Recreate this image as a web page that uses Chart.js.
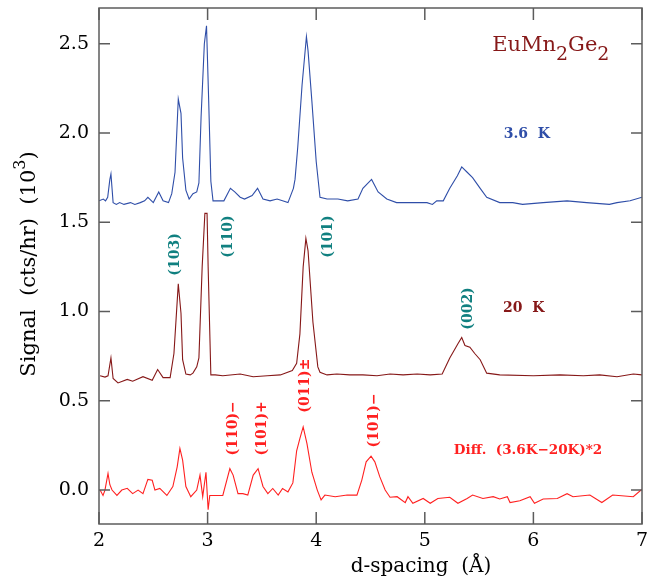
<!DOCTYPE html>
<html>
<head>
<meta charset="utf-8">
<script src="https://cdn.jsdelivr.net/npm/chart.js@4.4.0/dist/chart.umd.min.js"></script>
<style>
  body { margin: 0; background: #fff; }
</style>
</head>
<body>
<canvas id="xrdChart" width="647" height="580"></canvas>
<script>
// 3.6 K scan
const dCold = [2.00, 2.04, 2.06, 2.08, 2.10, 2.11, 2.13, 2.16, 2.19, 2.23, 2.29, 2.33, 2.38, 2.42, 2.45, 2.50,
  2.55, 2.59, 2.64, 2.67, 2.70, 2.73, 2.755, 2.77, 2.80, 2.83, 2.865, 2.90, 2.92, 2.94, 2.97, 2.99, 3.01,
  3.03, 3.05, 3.10, 3.15, 3.21, 3.25, 3.30, 3.34, 3.41, 3.46, 3.51, 3.575, 3.64, 3.69, 3.74, 3.79, 3.805,
  3.83, 3.87, 3.91, 3.925, 3.96, 4.00, 4.035, 4.10, 4.20, 4.29, 4.385, 4.43, 4.51, 4.57, 4.65, 4.74, 4.84,
  4.93, 5.02, 5.07, 5.11, 5.17, 5.23, 5.30, 5.34, 5.39, 5.44, 5.51, 5.57, 5.69, 5.81, 5.90, 6.09, 6.31,
  6.49, 6.70, 6.77, 6.89, 7.00];
const sigCold = [1.62, 1.63, 1.62, 1.64, 1.74, 1.77, 1.61, 1.60, 1.61, 1.60, 1.61, 1.60, 1.61, 1.62, 1.64, 1.61,
  1.67, 1.62, 1.61, 1.66, 1.78, 2.19, 2.11, 1.86, 1.68, 1.63, 1.66, 1.67, 1.72, 2.09, 2.50, 2.60, 2.18,
  1.73, 1.62, 1.62, 1.62, 1.69, 1.67, 1.64, 1.63, 1.65, 1.69, 1.63, 1.62, 1.63, 1.62, 1.61, 1.69, 1.74,
  1.92, 2.27, 2.54, 2.46, 2.18, 1.84, 1.64, 1.63, 1.63, 1.62, 1.63, 1.69, 1.74, 1.67, 1.63, 1.61, 1.61,
  1.61, 1.61, 1.60, 1.62, 1.62, 1.69, 1.76, 1.81, 1.78, 1.75, 1.69, 1.64, 1.61, 1.61, 1.60, 1.61, 1.62,
  1.61, 1.60, 1.61, 1.62, 1.64];

// 20 K scan
const dWarm = [2.01, 2.055, 2.083, 2.11, 2.13, 2.175, 2.26, 2.31, 2.405, 2.49, 2.54, 2.59, 2.655, 2.69, 2.73,
  2.755, 2.77, 2.80, 2.84, 2.865, 2.90, 2.92, 2.95, 2.975, 2.995, 3.005, 3.03, 3.07, 3.14, 3.30, 3.42, 3.55,
  3.67, 3.78, 3.82, 3.85, 3.88, 3.905, 3.925, 3.97, 4.015, 4.035, 4.10, 4.19, 4.31, 4.43, 4.56, 4.68, 4.80,
  4.93, 5.05, 5.16, 5.23, 5.305, 5.34, 5.37, 5.415, 5.46, 5.51, 5.57, 5.69, 6.00, 6.245, 6.46, 6.61, 6.77,
  6.92, 7.00];
const sigWarm = [0.64, 0.633, 0.64, 0.74, 0.625, 0.60, 0.62, 0.61, 0.635, 0.615, 0.675, 0.63, 0.63, 0.765, 1.155,
  0.99, 0.73, 0.65, 0.645, 0.655, 0.69, 0.74, 1.25, 1.55, 1.55, 1.25, 0.645, 0.645, 0.64, 0.65, 0.635, 0.64,
  0.645, 0.67, 0.71, 0.875, 1.25, 1.41, 1.34, 0.94, 0.69, 0.66, 0.645, 0.65, 0.645, 0.645, 0.64, 0.65, 0.645,
  0.65, 0.645, 0.65, 0.74, 0.82, 0.855, 0.81, 0.80, 0.765, 0.73, 0.655, 0.645, 0.64, 0.645, 0.64, 0.645, 0.635,
  0.65, 0.645];

// (3.6K - 20K) * 2
const dDiff = [2.01, 2.037, 2.055, 2.083, 2.10, 2.12, 2.165, 2.21, 2.26, 2.31, 2.36, 2.405, 2.45, 2.49, 2.515,
  2.56, 2.625, 2.68, 2.72, 2.745, 2.77, 2.80, 2.845, 2.90, 2.93, 2.955, 2.985, 3.005, 3.02, 3.07, 3.14, 3.205,
  3.235, 3.28, 3.325, 3.37, 3.42, 3.465, 3.51, 3.555, 3.60, 3.65, 3.69, 3.74, 3.785, 3.82, 3.85, 3.88, 3.915,
  3.96, 4.01, 4.045, 4.08, 4.175, 4.285, 4.375, 4.42, 4.46, 4.505, 4.54, 4.585, 4.635, 4.68, 4.745, 4.82,
  4.845, 4.89, 4.985, 5.05, 5.12, 5.23, 5.305, 5.39, 5.44, 5.535, 5.63, 5.69, 5.76, 5.785, 5.875, 5.97, 6.01,
  6.09, 6.22, 6.31, 6.365, 6.52, 6.63, 6.73, 6.92, 7.00];
const sigDiff = [0.0, -0.03, 0.0, 0.093, 0.03, 0.0, -0.03, 0.0, 0.01, -0.02, 0.0, -0.02, 0.06, 0.055, 0.0,
  0.009, -0.03, 0.02, 0.13, 0.233, 0.168, 0.02, -0.037, 0.0, 0.084, -0.037, 0.10, -0.11, -0.03, -0.03, -0.03, 0.12,
  0.084, -0.02, -0.02, -0.028, 0.084, 0.12, 0.02, -0.02, 0.009, -0.028, 0.009, -0.01, 0.04, 0.22, 0.29, 0.354, 0.26,
  0.10, 0.0, -0.055, -0.028, -0.037, -0.028, -0.028, 0.056, 0.158, 0.19, 0.158, 0.075, 0.0, -0.04, -0.037, -0.07,
  -0.037, -0.074, -0.047, -0.074, -0.047, -0.04, -0.074, -0.047, -0.028, -0.047, -0.037, -0.05, -0.037, -0.07, -0.06, -0.037, -0.074,
  -0.05, -0.047, -0.02, -0.037, -0.028, -0.07, -0.028, -0.037, 0.005];

const xTicks = [2, 3, 4, 5, 6, 7];
const yTicks = [0.0, 0.5, 1.0, 1.5, 2.0, 2.5];

const pts = (xs, ys) => xs.map((v, i) => ({ x: v, y: ys[i] }));

const SERIF = '"DejaVu Serif", serif';
const TEAL = '#108080';
const RED = '#ff2020';
const DARKRED = '#861818';
const BLUE = '#2f4ea8';

// text notes, placed in data units
const notes = [
  { t: '3.6  K', x: 5.94, y: 1.99, c: BLUE, f: 'bold 14px ' + SERIF },
  { t: '20  K', x: 5.91, y: 1.02, c: DARKRED, f: 'bold 14px ' + SERIF },
  { t: 'Diff.  (3.6K\u221220K)*2', x: 5.95, y: 0.223, c: RED, f: 'bold 13.5px ' + SERIF },
  { t: '(103)', x: 2.70, y: 1.32, c: TEAL, f: 'bold 14px ' + SERIF, rot: true },
  { t: '(110)', x: 3.19, y: 1.42, c: TEAL, f: 'bold 14px ' + SERIF, rot: true },
  { t: '(101)', x: 4.11, y: 1.42, c: TEAL, f: 'bold 14px ' + SERIF, rot: true },
  { t: '(002)', x: 5.40, y: 1.017, c: TEAL, f: 'bold 14px ' + SERIF, rot: true },
  { t: '(110)\u2212', x: 3.24, y: 0.346, c: RED, f: 'bold 14px ' + SERIF, rot: true },
  { t: '(101)+', x: 3.50, y: 0.346, c: RED, f: 'bold 14px ' + SERIF, rot: true },
  { t: '(011)\u00b1', x: 3.90, y: 0.585, c: RED, f: 'bold 14px ' + SERIF, rot: true },
  { t: '(101)\u2212', x: 4.54, y: 0.39, c: RED, f: 'bold 14px ' + SERIF, rot: true }
];

const framePlugin = {
  id: 'frame',
  afterDraw(chart) {
    const { ctx, chartArea: a, scales: { x, y } } = chart;
    ctx.save();
    ctx.strokeStyle = '#5c5c5c';
    ctx.lineWidth = 1.5;
    ctx.strokeRect(a.left, a.top, a.right - a.left, a.bottom - a.top);
    ctx.beginPath();
    xTicks.forEach(v => {
      const px = x.getPixelForValue(v);
      ctx.moveTo(px, a.bottom); ctx.lineTo(px, a.bottom - 12);
      ctx.moveTo(px, a.top); ctx.lineTo(px, a.top + 12);
    });
    yTicks.forEach(v => {
      const py = y.getPixelForValue(v);
      ctx.moveTo(a.left, py); ctx.lineTo(a.left + 11, py);
      ctx.moveTo(a.right, py); ctx.lineTo(a.right - 11, py);
    });
    ctx.stroke();

    // tick labels
    ctx.fillStyle = '#000';
    ctx.font = '19px ' + SERIF;
    ctx.textAlign = 'center';
    ctx.textBaseline = 'top';
    xTicks.forEach(v => ctx.fillText(String(v), x.getPixelForValue(v), a.bottom + 8));
    ctx.textAlign = 'right';
    ctx.textBaseline = 'middle';
    yTicks.forEach(v => ctx.fillText(v.toFixed(1), a.left - 10, y.getPixelForValue(v)));

    ctx.textAlign = 'center';
    notes.forEach(n => {
      ctx.save();
      ctx.translate(x.getPixelForValue(n.x), y.getPixelForValue(n.y));
      if (n.rot) ctx.rotate(-Math.PI / 2);
      ctx.fillStyle = n.c;
      ctx.font = n.f;
      ctx.fillText(n.t, 0, 0);
      ctx.restore();
    });

    // compound name with subscripts
    ctx.textAlign = 'left';
    ctx.textBaseline = 'alphabetic';
    ctx.fillStyle = DARKRED;
    let cx = x.getPixelForValue(5.62);
    const base = y.getPixelForValue(2.458);
    [['EuMn', 0], ['2', 1], ['Ge', 0], ['2', 1]].forEach(([s, sub]) => {
      ctx.font = (sub ? '19px ' : '21px ') + SERIF;
      ctx.fillText(s, cx, base + (sub ? 9 : 0));
      cx += ctx.measureText(s).width;
    });

    // axis titles
    ctx.fillStyle = '#000';
    ctx.font = '20px ' + SERIF;
    ctx.textAlign = 'center';
    ctx.fillText('d-spacing  (\u00c5)', 421, 572);

    ctx.save();
    ctx.translate(35, 0);
    ctx.rotate(-Math.PI / 2);
    const parts = [['Signal  (cts/hr)  (10', 0], ['3', 1], [')', 0]];
    let total = 0;
    parts.forEach(([s, sup]) => { ctx.font = (sup ? '16px ' : '21px ') + SERIF; total += ctx.measureText(s).width; });
    let tx = -264 - total / 2;
    ctx.textAlign = 'left';
    parts.forEach(([s, sup]) => {
      ctx.font = (sup ? '16px ' : '21px ') + SERIF;
      ctx.fillText(s, tx, sup ? -10 : 0);
      tx += ctx.measureText(s).width;
    });
    ctx.restore();
    ctx.restore();
  }
};

const lineSet = (label, xs, ys, color) => ({
  label: label,
  data: pts(xs, ys),
  borderColor: color,
  borderWidth: 1.1,
  showLine: true,
  pointRadius: 0,
  tension: 0,
  fill: false
});

new Chart(document.getElementById('xrdChart').getContext('2d'), {
  type: 'scatter',
  data: {
    datasets: [
      lineSet('3.6 K', dCold, sigCold, BLUE),
      lineSet('20 K', dWarm, sigWarm, DARKRED),
      lineSet('Diff', dDiff, sigDiff, RED)
    ]
  },
  options: {
    responsive: false,
    animation: false,
    layout: { padding: { top: 8, right: 5, left: 0, bottom: 0 } },
    plugins: { legend: { display: false }, tooltip: { enabled: false } },
    scales: {
      x: {
        type: 'linear', min: 2, max: 7,
        grid: { display: false }, border: { display: false },
        afterBuildTicks: s => { s.ticks = xTicks.map(v => ({ value: v })); },
        afterFit: s => { s.height = 56; },
        ticks: { display: false }
      },
      y: {
        type: 'linear', min: -0.19, max: 2.70,
        grid: { display: false }, border: { display: false },
        afterBuildTicks: s => { s.ticks = yTicks.map(v => ({ value: v })); },
        afterFit: s => { s.width = 99; },
        ticks: { display: false }
      }
    }
  },
  plugins: [framePlugin]
});
</script>
</body>
</html>
